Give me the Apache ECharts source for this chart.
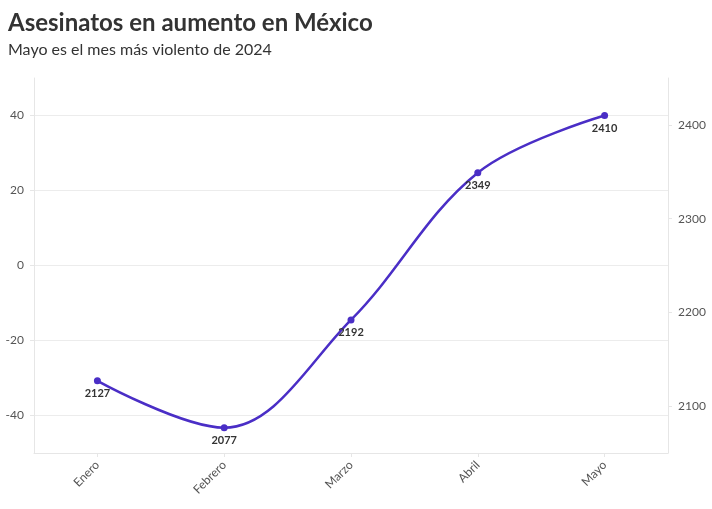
<!DOCTYPE html>
<html>
<head>
<meta charset="utf-8">
<script src="https://cdn.jsdelivr.net/npm/echarts@6/dist/echarts.min.js"></script>
<style>
html,body{margin:0;padding:0;background:#fff;}
#c{width:712px;height:509px;}
</style>
</head>
<body>
<div id="c"></div>
<script>
var titleText = 'Asesinatos en aumento en México';
var subtitleText = 'Mayo es el mes más violento de 2024';
var categories = ['Enero', 'Febrero', 'Marzo', 'Abril', 'Mayo'];
var asesinatos = [2127, 2077, 2192, 2349, 2410];
var leftTicks = [-40, -20, 0, 20, 40];
var rightTicks = [2100, 2200, 2300, 2400];

var FONT = 'Lato';
var chart = echarts.init(document.getElementById('c'));
chart.setOption({
  backgroundColor: '#fff',
  animation: false,
  title: [
    { text: titleText, left: 3, top: 6, textStyle: { fontFamily: FONT, fontSize: 24, fontWeight: 'bold', color: '#333' } },
    { text: subtitleText, left: 3, top: 37, textStyle: { fontFamily: FONT, fontSize: 16, fontWeight: 'normal', color: '#333' } }
  ],
  grid: { left: 34, right: 44, top: 78, bottom: 56, containLabel: false },
  xAxis: {
    type: 'category',
    data: categories,
    boundaryGap: true,
    axisLine: { show: true, onZero: false, lineStyle: { color: '#e6e6e6' } },
    axisTick: { show: true, alignWithLabel: true, length: 4, lineStyle: { color: '#e6e6e6' } },
    axisLabel: { rotate: 45, color: '#555', fontFamily: FONT, fontSize: 12, margin: 10 }
  },
  yAxis: [
    {
      type: 'value', min: -50, max: 50, interval: 10,
      axisLine: { show: true, lineStyle: { color: '#e6e6e6' } },
      axisTick: { show: true, length: 4, lineStyle: { color: '#e6e6e6' },
        customValues: leftTicks },
      axisLabel: { color: '#555', fontFamily: FONT, fontSize: 12, margin: 10,
        customValues: leftTicks },
      splitLine: { show: true, lineStyle: { color: '#ececec' } }
    },
    {
      type: 'value', min: 2050, max: 2450, interval: 50,
      position: 'right',
      axisLine: { show: true, lineStyle: { color: '#e6e6e6' } },
      axisTick: { show: true, length: 4, lineStyle: { color: '#e6e6e6' }, customValues: rightTicks },
      axisLabel: { color: '#555', fontFamily: FONT, fontSize: 12, margin: 10, customValues: rightTicks,
        formatter: function (v) { return String(v); } },
      splitLine: { show: false }
    }
  ],
  series: [{
    type: 'line',
    yAxisIndex: 1,
    data: asesinatos,
    smooth: 0.36,
    symbol: 'circle',
    symbolSize: 7,
    lineStyle: { color: '#4a2ec6', width: 2.5 },
    itemStyle: { color: '#4a2ec6' },
    label: { show: true, position: 'bottom', distance: 4, color: '#333', fontFamily: FONT, fontSize: 11, fontWeight: 'bold' }
  }]
});
</script>
</body>
</html>
